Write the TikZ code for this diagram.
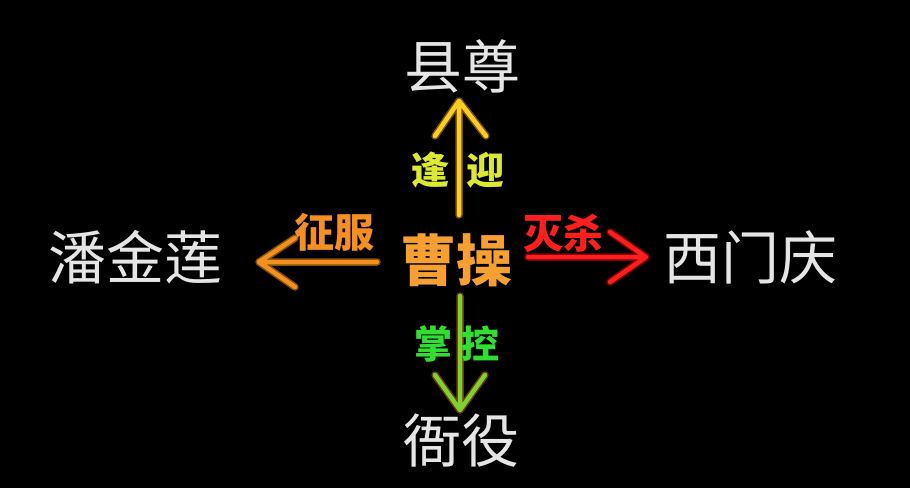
\documentclass[tikz,border=0pt]{standalone}
\usepackage{fontspec}
\newfontfamily\cjk{Noto Sans CJK SC}
\begin{document}
\begin{tikzpicture}[x=1pt,y=-1pt,
  pname/.style={text=white!90!black, inner sep=0pt, font=\cjk\fontsize{58}{60}\selectfont},
  cnode/.style={text=caoorange, inner sep=0pt, font=\cjk\bfseries\fontsize{56}{58}\selectfont},
  lab/.style={inner sep=0pt, font=\cjk\bfseries\fontsize{38}{40}\selectfont},
  glow/.style={line width=7.5pt, line cap=round, line join=round, opacity=0.5},
  core/.style={line width=4.5pt, line cap=round, line join=round}]
\definecolor{caoorange}{HTML}{F5A030}
\definecolor{upyellow}{HTML}{FFCC22}
\definecolor{uporange}{HTML}{F5A020}
\definecolor{dngreen}{HTML}{80D030}
\definecolor{lorange}{HTML}{F59020}
\definecolor{rred}{HTML}{FF1E1E}
\definecolor{lyellow}{HTML}{DDE830}
\definecolor{lgreen}{HTML}{30E030}
\fill[black] (0,0) rectangle (910,488);
\useasboundingbox (0,0) rectangle (910,488);

% nodes
\node[cnode] (cao) at (456,260) {曹操};
\node[pname] (xz) at (462,66) {县尊};
\node[pname] (hy) at (461,441) {衙役};
\node[pname] (pjl) at (135,257) {潘金莲};
\node[pname] (xmq) at (750,257) {西门庆};

% arrow end points
\coordinate (us) at (459,215); \coordinate (ut) at (459,101);
\coordinate (ul) at (435,136); \coordinate (ur) at (486,136);
\coordinate (ds) at (460,296); \coordinate (dt) at (460,410);
\coordinate (dl) at (435,375); \coordinate (dr) at (485,375);
\coordinate (ls) at (377,262); \coordinate (lt) at (259,262);
\coordinate (lu) at (295,238); \coordinate (ld) at (295,287);
\coordinate (rs) at (528,257); \coordinate (rt) at (646,257);
\coordinate (ru) at (610,232); \coordinate (rd) at (610,282);

% up arrow
\draw[glow, uporange] (us) -- (ut) (ul) -- (ut) -- (ur);
\draw[core, upyellow] (us) -- (ut) (ul) -- (ut) -- (ur);
% down arrow
\draw[glow, orange!80!yellow, opacity=0.4] (ds) -- (dt) (dl) -- (dt) -- (dr);
\draw[core, dngreen] (ds) -- (dt) (dl) -- (dt) -- (dr);
% left arrow
\draw[glow, orange!70!yellow] (ls) -- (lt) (lu) -- (lt) -- (ld);
\draw[core, lorange] (ls) -- (lt) (lu) -- (lt) -- (ld);
% right arrow
\draw[glow, red] (rs) -- (rt) (ru) -- (rt) -- (rd);
\draw[core, rred] (rs) -- (rt) (ru) -- (rt) -- (rd);

% labels
\node[lab, text=lyellow] (fy) at (458,170) {逢\hspace{17pt}迎};
\node[lab, text=lgreen] (zk) at (457,344) {掌\hspace{10pt}控};
\node[lab, text=lorange, font=\cjk\bfseries\fontsize{40}{42}\selectfont] (zf) at (334,232) {征服};
\node[lab, text=rred, font=\cjk\bfseries\fontsize{40}{42}\selectfont] (ms) at (563,233) {灭杀};
\end{tikzpicture}
\end{document}
